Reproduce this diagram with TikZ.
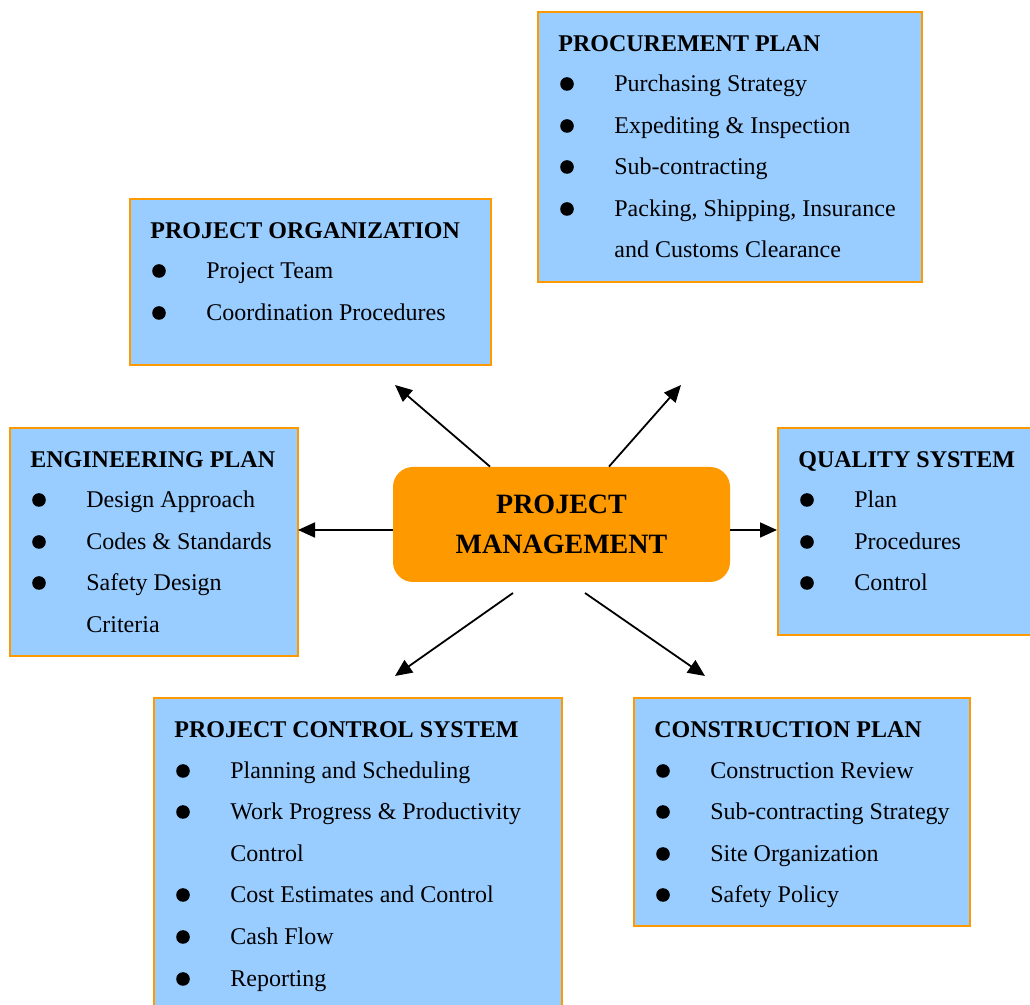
\documentclass[tikz,border=0pt,12pt]{standalone}
\usepackage{fontspec}
\setmainfont{Liberation Serif}
\usetikzlibrary{arrows.meta,calc}

\begin{document}
\begin{tikzpicture}[x=0.5pt,y=-0.5pt,
    planbox/.style={draw=boxorange, fill=boxblue, line width=1pt, anchor=north west, inner sep=0pt},
    head/.style={anchor=base west, inner sep=0pt, font=\fontsize{12}{14}\selectfont\bfseries},
    item/.style={anchor=base west, inner sep=0pt, font=\fontsize{12}{14}\selectfont},
    dot/.style={circle, fill=black, inner sep=0pt, minimum size=6.8pt},
    link/.style={line width=0.9pt, -{Triangle[length=8.5pt,width=7.5pt]}}]
        \definecolor{boxblue}{RGB}{153,204,255}
        \definecolor{boxorange}{RGB}{255,153,0}
        \clip (0,0) rectangle (1030,1005);

        % the six plan boxes
        \node [planbox, minimum width=192pt, minimum height=135pt] (proc) at (537,11) {};
        \node [planbox, minimum width=180.5pt, minimum height=83pt] (org) at (129,198) {};
        \node [planbox, minimum width=144pt, minimum height=114pt] (eng) at (9,427) {};
        \node [planbox, minimum width=132pt, minimum height=103.5pt] (qs) at (777,427) {};
        \node [planbox, minimum width=204pt, minimum height=162pt] (ctl) at (153,697) {};
        \node [planbox, minimum width=168pt, minimum height=114pt] (con) at (633,697) {};

        % centre
        \node [fill=boxorange, rounded corners=10pt, minimum width=168.5pt, minimum height=57.5pt,
               align=center, font=\fontsize{14}{20}\selectfont\bfseries] (pm) at (561.5,524.5)
               {PROJECT\\MANAGEMENT};

        % arrows
        \coordinate (orgtip) at (395,385);
        \coordinate (proctip) at (681,385);
        \coordinate (engtip) at (298,530);
        \coordinate (qstip) at (777,530);
        \coordinate (ctlfoot) at (513,593);
        \coordinate (ctltip) at (395,676);
        \coordinate (confoot) at (585,593);
        \coordinate (contip) at (705,676);
        \draw [link] (pm.north -| 490,0) -- (orgtip);
        \draw [link] (pm.north -| 609,0) -- (proctip);
        \draw [link] (pm.west |- engtip) -- (engtip);
        \draw [link] (pm.east |- qstip) -- (qstip);
        \draw [link] (ctlfoot) -- (ctltip);
        \draw [link] (confoot) -- (contip);

        % procurement plan
        \node [head] (prochead) at (558,52) {PROCUREMENT PLAN};
        \foreach \yy/\txt in {92/Purchasing Strategy, 134/Expediting \& Inspection,
                              175/Sub-contracting, 217/{Packing, Shipping, Insurance}} {
            \node [dot] (procdot\yy) at (567,\yy-8) {};
            \node [item] (procitem\yy) at (614,\yy) {\txt};
        }
        \node [item] (procmore) at (614,258) {and Customs Clearance};

        % project organization
        \node [head] (orghead) at (150,239) {PROJECT ORGANIZATION};
        \foreach \yy/\txt in {279/Project Team, 321/Coordination Procedures} {
            \node [dot] (orgdot\yy) at (159,\yy-8) {};
            \node [item] (orgitem\yy) at (206,\yy) {\txt};
        }

        % engineering plan
        \node [head] (enghead) at (30,468) {ENGINEERING PLAN};
        \foreach \yy/\txt in {508/Design Approach, 550/Codes \& Standards, 591/Safety Design} {
            \node [dot] (engdot\yy) at (39,\yy-8) {};
            \node [item] (engitem\yy) at (86,\yy) {\txt};
        }
        \node [item] (engmore) at (86,633) {Criteria};

        % quality system
        \node [head] (qshead) at (798,468) {QUALITY SYSTEM};
        \foreach \yy/\txt in {508/Plan, 550/Procedures, 591/Control} {
            \node [dot] (qsdot\yy) at (807,\yy-8) {};
            \node [item] (qsitem\yy) at (854,\yy) {\txt};
        }

        % project control system
        \node [head] (ctlhead) at (174,738) {PROJECT CONTROL SYSTEM};
        \foreach \yy/\txt in {779/Planning and Scheduling, 820/Work Progress \& Productivity,
                              903/Cost Estimates and Control, 945/Cash Flow, 987/Reporting} {
            \node [dot] (ctldot\yy) at (183,\yy-8) {};
            \node [item] (ctlitem\yy) at (230,\yy) {\txt};
        }
        \node [item] (ctlmore) at (230,862) {Control};

        % construction plan
        \node [head] (conhead) at (654,738) {CONSTRUCTION PLAN};
        \foreach \yy/\txt in {779/Construction Review, 820/Sub-contracting Strategy,
                              862/Site Organization, 903/Safety Policy} {
            \node [dot] (condot\yy) at (663,\yy-8) {};
            \node [item] (conitem\yy) at (710,\yy) {\txt};
        }
\end{tikzpicture}
\end{document}
